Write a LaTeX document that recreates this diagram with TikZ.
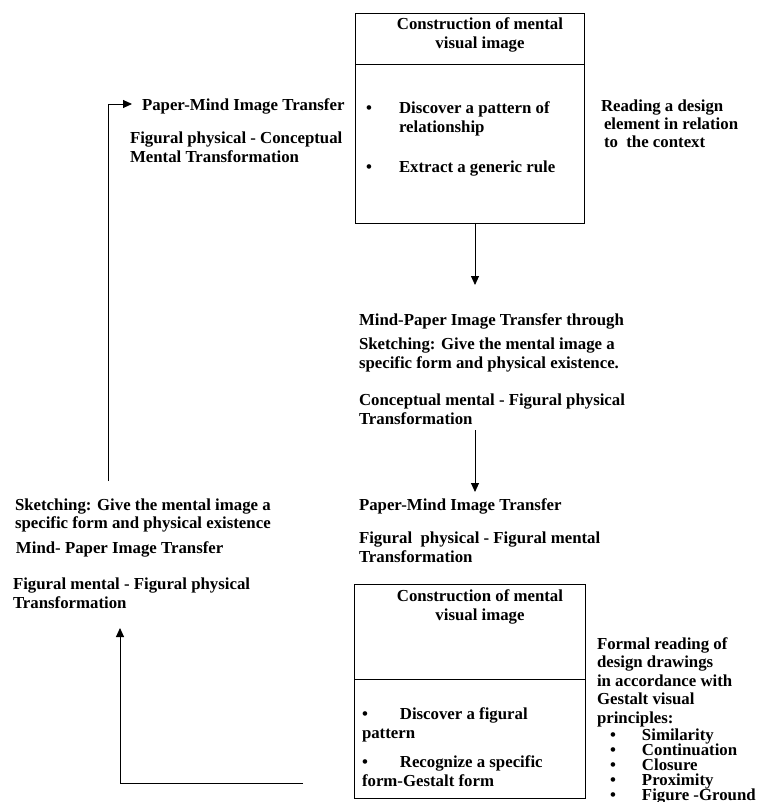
\documentclass[tikz,border=0pt]{standalone}
\usepackage{fontspec}
\setmainfont{Liberation Serif}
\usetikzlibrary{arrows.meta}
\newcommand\dgfont{\fontsize{16.8}{19}\selectfont\bfseries}
\begin{document}
\begin{tikzpicture}[x=1pt,y=-1pt,
  every node/.style={inner sep=0pt, outer sep=0pt},
  txt/.style={anchor=north west, align=left, font=\dgfont},
  ctxt/.style={anchor=north, align=center, font=\dgfont},
  boxpart/.style={draw, line width=0.9pt, anchor=north west},
  arr/.style={line width=0.9pt, -{Triangle[length=9pt,width=8pt]}},
  ln/.style={line width=0.9pt}]
\path[use as bounding box] (0,0) rectangle (757,802);

% top box
\node[boxpart, minimum width=229pt, minimum height=51pt] (b1h) at (355,13) {};
\node[boxpart, minimum width=229pt, minimum height=159pt] (b1b) at (355,64) {};
\node[ctxt] (b1t) at (480,17.6) {Construction of mental\\visual image};
\node[txt] (b1p1) at (399,101.6) {\llap{\textbullet\hspace{27pt}}Discover a pattern of\\relationship};
\node[txt] (b1p2) at (399,160.6) {\llap{\textbullet\hspace{27pt}}Extract a generic rule};

% top right text
\node[txt, font=\fontsize{16.8}{18}\selectfont\bfseries] (r1) at (601,99.6)
  {Reading a design\\\hspace{3pt}element in relation\\\hspace{3pt}to\ \ the context};

% top left text
\node[txt] (l1a) at (142,98.6) {Paper-Mind Image Transfer};
\node[txt] (l1b) at (130,131.6) {Figural physical - Conceptual\\Mental Transformation};

% middle texts
\node[txt] (m1a) at (359,313.6) {Mind-Paper Image Transfer through};
\node[txt] (m1b) at (359,337.6) {Sketching: Give the mental image a\\specific form and physical existence.};
\node[txt] (m1c) at (359,393.6) {Conceptual mental - Figural physical\\Transformation};
\node[txt] (m2a) at (359,498.6) {Paper-Mind Image Transfer};
\node[txt] (m2b) at (359,531.6) {Figural\ \ physical - Figural mental\\Transformation};

% left lower texts
\node[txt, font=\fontsize{16.8}{18}\selectfont\bfseries] (l2a) at (15,498.6)
  {Sketching: Give the mental image a\\specific form and physical existence};
\node[txt] (l2b) at (16,541.6) {Mind- Paper Image Transfer};
\node[txt] (l2c) at (13,577.6) {Figural mental - Figural physical\\Transformation};

% bottom box
\node[boxpart, minimum width=231pt, minimum height=95pt] (b2h) at (354,584) {};
\node[boxpart, minimum width=231pt, minimum height=119pt] (b2b) at (354,679) {};
\node[ctxt] (b2t) at (480,589.6) {Construction of mental\\visual image};
\node[txt] (b2p1) at (362,707.6) {\textbullet\hspace{32pt}Discover a figural\\pattern};
\node[txt] (b2p2) at (362,755.6) {\textbullet\hspace{32pt}Recognize a specific\\form-Gestalt form};

% bottom right text
\node[txt, font=\fontsize{16.8}{18.5}\selectfont\bfseries] (r2a) at (597,637.6)
  {Formal reading of\\design drawings\\in accordance with\\Gestalt visual\\principles:};
\foreach \t [count=\i] in {Similarity, Continuation, Closure, Proximity, Figure -Ground}
  \node[txt] (r2b\i) at (642,{720+15*\i-6.4}) {\llap{\textbullet\hspace{26pt}}\t};

% connectors
\coordinate (a1e) at (475,285);
\draw[arr] (b1b.south -| a1e) -- (a1e);
\coordinate (a2s) at (475,430);
\coordinate (a2e) at (475,492);
\draw[arr] (a2s) -- (a2e);
\coordinate (lA) at (108,481);
\coordinate (lAe) at (132,104);
\draw[arr] (lA) |- (lAe);
\coordinate (bS) at (303,783);
\coordinate (bT) at (120,628);
\draw[arr] (bS) -| (bT);
\end{tikzpicture}
\end{document}
